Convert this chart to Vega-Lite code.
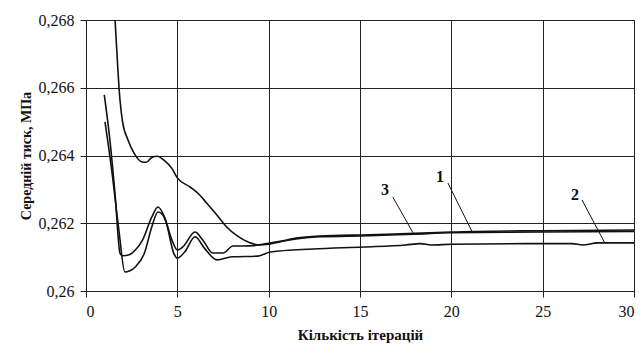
{
  "$schema": "https://vega.github.io/schema/vega-lite/v6.json",
  "width": 548,
  "height": 271,
  "autosize": {"type": "none"},
  "padding": {"left": 86, "top": 20, "right": 8, "bottom": 65},
  "background": "white",
  "config": {
    "view": {"stroke": "#222", "strokeWidth": 1},
    "axis": {
      "labelFont": "Liberation Serif",
      "labelFontSize": 16,
      "labelColor": "#111",
      "titleFont": "Liberation Serif",
      "titleFontSize": 14,
      "titleFontWeight": "bold",
      "titleColor": "#111",
      "gridColor": "#222",
      "gridOpacity": 1,
      "gridWidth": 1,
      "domainColor": "#222",
      "tickColor": "#222",
      "tickSize": 6
    }
  },
  "datasets": {
    "curves": [
      {"series": "1", "x": 1, "y": 0.2732},
      {"series": "1", "x": 1.59, "y": 0.268},
      {"series": "1", "x": 1.86, "y": 0.26564},
      {"series": "1", "x": 2.0, "y": 0.2650},
      {"series": "1", "x": 2.3, "y": 0.26446},
      {"series": "1", "x": 2.6, "y": 0.2641},
      {"series": "1", "x": 3.07, "y": 0.26381},
      {"series": "1", "x": 3.3, "y": 0.2638},
      {"series": "1", "x": 3.6, "y": 0.26394},
      {"series": "1", "x": 3.9, "y": 0.26398},
      {"series": "1", "x": 4.3, "y": 0.26385},
      {"series": "1", "x": 4.7, "y": 0.26362},
      {"series": "1", "x": 5.0, "y": 0.26334},
      {"series": "1", "x": 5.7, "y": 0.26307},
      {"series": "1", "x": 6.2, "y": 0.26285},
      {"series": "1", "x": 6.6, "y": 0.2626},
      {"series": "1", "x": 7.2, "y": 0.26222},
      {"series": "1", "x": 7.7, "y": 0.26189},
      {"series": "1", "x": 8.3, "y": 0.26162},
      {"series": "1", "x": 8.9, "y": 0.26144},
      {"series": "1", "x": 9.5, "y": 0.26136},
      {"series": "1", "x": 10, "y": 0.26138},
      {"series": "1", "x": 11.5, "y": 0.26156},
      {"series": "1", "x": 12.8, "y": 0.26162},
      {"series": "1", "x": 15.5, "y": 0.26166},
      {"series": "1", "x": 18, "y": 0.2617},
      {"series": "1", "x": 20, "y": 0.26174},
      {"series": "1", "x": 25, "y": 0.26178},
      {"series": "1", "x": 30, "y": 0.2618},
      {"series": "3", "x": 1, "y": 0.26579},
      {"series": "3", "x": 1.3, "y": 0.2645},
      {"series": "3", "x": 1.6, "y": 0.2628},
      {"series": "3", "x": 1.86, "y": 0.26112},
      {"series": "3", "x": 2.0, "y": 0.26104},
      {"series": "3", "x": 2.4, "y": 0.26108},
      {"series": "3", "x": 2.7, "y": 0.26121},
      {"series": "3", "x": 3.1, "y": 0.26151},
      {"series": "3", "x": 3.6, "y": 0.26218},
      {"series": "3", "x": 3.94, "y": 0.26248},
      {"series": "3", "x": 4.3, "y": 0.26218},
      {"series": "3", "x": 4.7, "y": 0.26151},
      {"series": "3", "x": 5.0, "y": 0.26121},
      {"series": "3", "x": 5.3, "y": 0.2613},
      {"series": "3", "x": 5.97, "y": 0.26174},
      {"series": "3", "x": 6.4, "y": 0.2615},
      {"series": "3", "x": 6.95, "y": 0.26112},
      {"series": "3", "x": 7.5, "y": 0.26112},
      {"series": "3", "x": 8.05, "y": 0.26133},
      {"series": "3", "x": 8.6, "y": 0.26133},
      {"series": "3", "x": 9.2, "y": 0.26134},
      {"series": "3", "x": 9.9, "y": 0.2614},
      {"series": "3", "x": 11.5, "y": 0.26154},
      {"series": "3", "x": 12.8, "y": 0.2616},
      {"series": "3", "x": 15.5, "y": 0.26163},
      {"series": "3", "x": 18, "y": 0.26168},
      {"series": "3", "x": 20, "y": 0.26172},
      {"series": "3", "x": 25, "y": 0.26174},
      {"series": "3", "x": 30, "y": 0.26176},
      {"series": "2", "x": 1.04, "y": 0.26499},
      {"series": "2", "x": 1.4, "y": 0.2636},
      {"series": "2", "x": 1.8, "y": 0.2618},
      {"series": "2", "x": 2.13, "y": 0.26056},
      {"series": "2", "x": 2.4, "y": 0.2606},
      {"series": "2", "x": 2.7, "y": 0.26071},
      {"series": "2", "x": 3.2, "y": 0.26112},
      {"series": "2", "x": 3.6, "y": 0.26189},
      {"series": "2", "x": 3.94, "y": 0.26233},
      {"series": "2", "x": 4.2, "y": 0.26225},
      {"series": "2", "x": 4.4, "y": 0.262},
      {"series": "2", "x": 4.8, "y": 0.26112},
      {"series": "2", "x": 5.0, "y": 0.26097},
      {"series": "2", "x": 5.4, "y": 0.26115},
      {"series": "2", "x": 5.97, "y": 0.2616},
      {"series": "2", "x": 6.5, "y": 0.26125},
      {"series": "2", "x": 7.17, "y": 0.26092},
      {"series": "2", "x": 8.0, "y": 0.26101},
      {"series": "2", "x": 9.4, "y": 0.26103},
      {"series": "2", "x": 10.1, "y": 0.26115},
      {"series": "2", "x": 12.4, "y": 0.26124},
      {"series": "2", "x": 15.2, "y": 0.2613},
      {"series": "2", "x": 17.5, "y": 0.26136},
      {"series": "2", "x": 18.3, "y": 0.2614},
      {"series": "2", "x": 18.9, "y": 0.26136},
      {"series": "2", "x": 20, "y": 0.26138},
      {"series": "2", "x": 25, "y": 0.2614},
      {"series": "2", "x": 26.6, "y": 0.2614},
      {"series": "2", "x": 27.2, "y": 0.26136},
      {"series": "2", "x": 28, "y": 0.26142},
      {"series": "2", "x": 30, "y": 0.26142}
    ],
    "labels": [
      {"label": "3", "tx": 16.37, "ty": 0.26298, "x1": 16.8, "y1": 0.26277, "x2": 17.9, "y2": 0.26172},
      {"label": "1", "tx": 19.38, "ty": 0.26337, "x1": 19.81, "y1": 0.26319, "x2": 21.13, "y2": 0.26176},
      {"label": "2", "tx": 26.77, "ty": 0.26283, "x1": 27.15, "y1": 0.26269, "x2": 28.4, "y2": 0.26142}
    ]
  },
  "layer": [
    {
      "data": {"name": "curves"},
      "mark": {"type": "line", "color": "#111", "strokeWidth": 1.6, "interpolate": "monotone", "clip": true},
      "encoding": {
        "x": {
          "field": "x", "type": "quantitative",
          "scale": {"domain": [0, 30], "nice": false, "zero": false},
          "axis": {"values": [0, 5, 10, 15, 20, 25, 30], "title": "Кількість ітерацій", "titleFontSize": 15, "labelPadding": 6, "titlePadding": 8, "grid": true}
        },
        "y": {
          "field": "y", "type": "quantitative",
          "scale": {"domain": [0.26, 0.268], "nice": false, "zero": false},
          "axis": {
            "values": [0.26, 0.262, 0.264, 0.266, 0.268],
            "title": "Середній тиск, МПа",
            "labelExpr": "replace(format(datum.value, '~g'), '.', ',')",
            "labelPadding": 6,
            "titlePadding": 5,
            "grid": true
          }
        },
        "detail": {"field": "series", "type": "nominal"}
      }
    },
    {
      "data": {"name": "labels"},
      "mark": {"type": "rule", "color": "#111", "strokeWidth": 1},
      "encoding": {
        "x": {"field": "x1", "type": "quantitative"},
        "y": {"field": "y1", "type": "quantitative"},
        "x2": {"field": "x2"},
        "y2": {"field": "y2"}
      }
    },
    {
      "data": {"name": "labels"},
      "mark": {"type": "text", "font": "Liberation Serif", "fontSize": 16, "fontWeight": "bold", "color": "#111"},
      "encoding": {
        "x": {"field": "tx", "type": "quantitative"},
        "y": {"field": "ty", "type": "quantitative"},
        "text": {"field": "label"}
      }
    }
  ]
}
